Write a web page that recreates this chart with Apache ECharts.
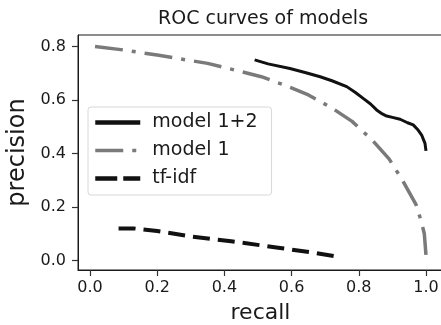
<!DOCTYPE html>
<html>
<head>
<meta charset="utf-8">
<script src="https://cdn.jsdelivr.net/npm/echarts@6/dist/echarts.min.js"></script>
<style>
  html, body { margin: 0; padding: 0; background: #fff; }
  #chart { width: 441px; height: 325px; }
</style>
</head>
<body>
<div id="chart"></div>
<script>
// values
const seriesNames = ['model 1+2', 'model 1', 'tf-idf'];

const recall12 = [0.49, 0.53, 0.595, 0.64, 0.685, 0.72, 0.764, 0.79, 0.813, 0.835, 0.853, 0.87, 0.883, 0.90, 0.923, 0.945, 0.962, 0.975, 0.987, 0.997, 1.0];
const precision12 = [0.75, 0.735, 0.718, 0.703, 0.687, 0.672, 0.650, 0.628, 0.606, 0.585, 0.563, 0.548, 0.540, 0.535, 0.528, 0.515, 0.507, 0.49, 0.469, 0.438, 0.41];

const recall1 = [0.015, 0.1, 0.2, 0.35, 0.45, 0.51, 0.58, 0.65, 0.72, 0.78, 0.84, 0.89, 0.93, 0.97, 0.985, 0.995, 1.0];
const precision1 = [0.80, 0.787, 0.768, 0.737, 0.706, 0.687, 0.655, 0.619, 0.57, 0.52, 0.45, 0.38, 0.30, 0.21, 0.15, 0.10, 0.02];

const recallTfidf = [0.085, 0.13, 0.2, 0.3, 0.42, 0.56, 0.66, 0.745];
const precisionTfidf = [0.12, 0.12, 0.11, 0.09, 0.072, 0.048, 0.03, 0.013];

const xTicks = [0, 0.2, 0.4, 0.6, 0.8, 1.0];
const yTicks = [0, 0.2, 0.4, 0.6, 0.8];

const font = 'DejaVu Sans';
const ink = '#1a1a1a';

const zip = (xs, ys) => xs.map((x, i) => [x, ys[i]]);

const chart = echarts.init(document.getElementById('chart'));

const axisCommon = {
  type: 'value',
  nameLocation: 'middle',
  splitLine: { show: false },
  axisLine: { show: true, onZero: false, lineStyle: { color: ink, width: 1 } },
  axisTick: { show: true, inside: false, length: 6, lineStyle: { color: '#333', width: 1.2 } },
};

chart.setOption({
  animation: false,
  backgroundColor: '#fff',
  title: {
    text: 'ROC curves of models',
    left: 258,
    textAlign: 'center',
    top: 5,
    textStyle: { fontFamily: font, fontSize: 19, fontWeight: 'normal', color: ink },
  },
  grid: {
    left: 78,
    right: -2,
    top: 35,
    bottom: 55,
    outerBoundsMode: 'none',
    show: true,
    borderColor: ink,
    borderWidth: 1,
  },
  legend: {
    orient: 'vertical',
    left: 88,
    top: 107,
    data: [
      { name: seriesNames[0], lineStyle: { width: 4.5 } },
      { name: seriesNames[1], lineStyle: { width: 3.5 } },
      { name: seriesNames[2], lineStyle: { width: 4.5, type: [22, 6] } },
    ],
    itemWidth: 45,
    itemHeight: 14,
    itemGap: 9,
    padding: [6, 14, 7, 5],
    backgroundColor: '#fff',
    borderColor: '#d8d8d8',
    borderWidth: 1,
    borderRadius: 3,
    itemStyle: { opacity: 0 },
    textStyle: { fontFamily: font, fontSize: 19, color: ink, padding: [0, 0, 0, 7] },
  },
  xAxis: {
    ...axisCommon,
    min: -0.0357,
    max: 1.0506,
    name: 'recall',
    nameGap: 32,
    nameTextStyle: { fontFamily: font, fontSize: 22, color: ink },
    axisTick: { ...axisCommon.axisTick, customValues: xTicks },
    axisLabel: {
      customValues: xTicks,
      margin: 10,
      fontFamily: font,
      fontSize: 16,
      color: ink,
      formatter: (v) => v.toFixed(1),
    },
  },
  yAxis: {
    ...axisCommon,
    min: -0.0355,
    max: 0.843,
    name: 'precision',
    nameGap: 47,
    nameTextStyle: { fontFamily: font, fontSize: 24, color: ink },
    axisTick: { ...axisCommon.axisTick, customValues: yTicks },
    axisLabel: {
      customValues: yTicks,
      margin: 12,
      fontFamily: font,
      fontSize: 16,
      color: ink,
      formatter: (v) => v.toFixed(1),
    },
  },
  series: [
    {
      name: seriesNames[0],
      type: 'line',
      symbol: 'none',
      data: zip(recall12, precision12),
      color: '#111',
      lineStyle: { color: '#111', width: 3 },
    },
    {
      name: seriesNames[1],
      type: 'line',
      symbol: 'none',
      data: zip(recall1, precision1),
      color: '#7a7a7a',
      lineStyle: { color: '#7a7a7a', width: 3.5, type: [28, 9, 4, 9] },
    },
    {
      name: seriesNames[2],
      type: 'line',
      symbol: 'none',
      data: zip(recallTfidf, precisionTfidf),
      color: '#111',
      lineStyle: { color: '#111', width: 4, type: [17, 8] },
    },
  ],
});
</script>
</body>
</html>
